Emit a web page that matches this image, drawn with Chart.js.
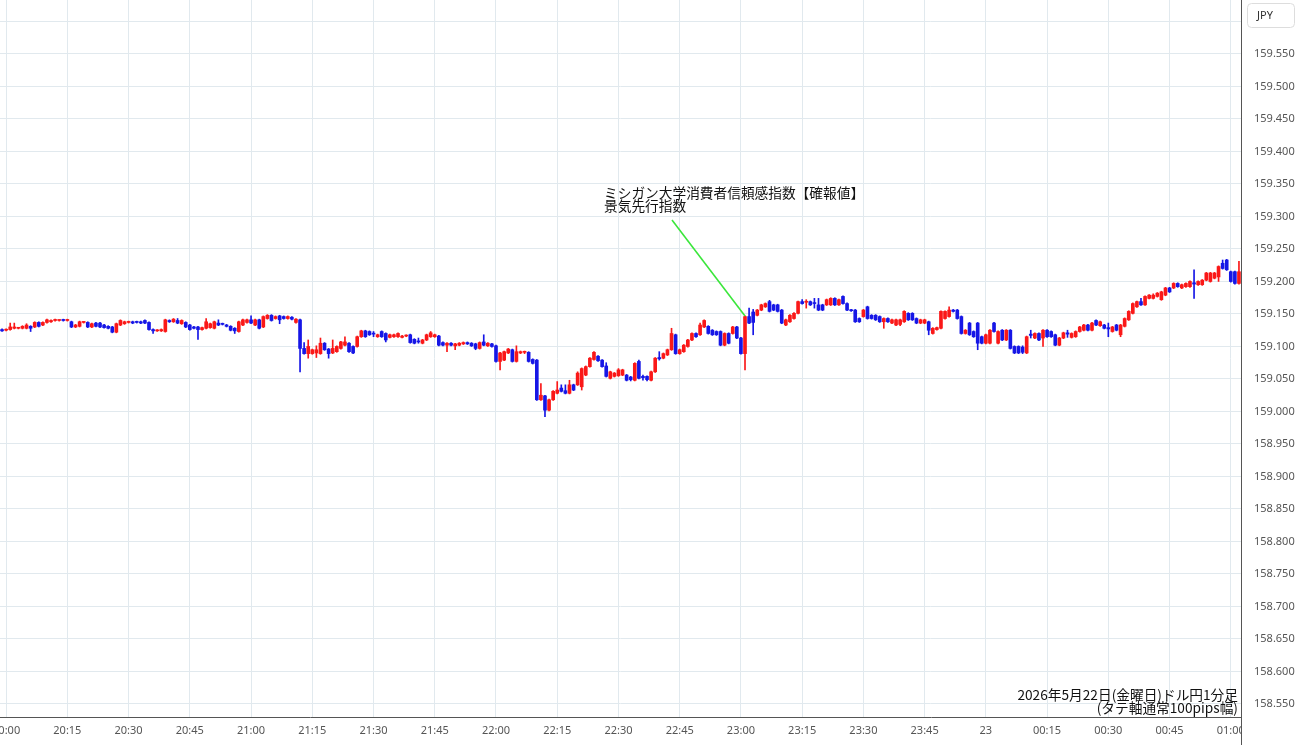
<!doctype html>
<html lang="ja">
<head>
<meta charset="utf-8">
<title>ドル円1分足</title>
<script src="https://cdn.jsdelivr.net/npm/chart.js"></script>
<style>
  html, body { margin: 0; padding: 0; background: #fff; }
  #wrap { position: relative; width: 1300px; height: 745px; }
</style>
</head>
<body>
<div id="wrap"><canvas id="chart"></canvas></div>
<script>
// first candle is 19:59, one candle per minute
const startMinute = 19 * 60 + 59;

const tickLabels = ['20:00','20:15','20:30','20:45','21:00','21:15','21:30','21:45','22:00','22:15',
  '22:30','22:45','23:00','23:15','23:30','23:45','23','00:15','00:30','00:45','01:00'];

const yTicks = [158.55,158.60,158.65,158.70,158.75,158.80,158.85,158.90,158.95,159.00,159.05,
  159.10,159.15,159.20,159.25,159.30,159.35,159.40,159.45,159.50,159.55,159.60];

const opens = [159.126,159.125,159.126,159.128,159.128,159.128,159.128,159.131,159.130,159.137,
159.133,159.137,159.138,159.140,159.140,159.141,159.140,159.138,159.130,159.131,
159.137,159.137,159.130,159.136,159.136,159.133,159.131,159.130,159.122,159.133,
159.135,159.137,159.138,159.138,159.138,159.140,159.137,159.126,159.124,159.124,
159.123,159.140,159.138,159.140,159.135,159.137,159.133,159.130,159.130,159.126,
159.128,159.129,159.128,159.136,159.135,159.133,159.131,159.128,159.123,159.133,
159.137,159.141,159.133,159.141,159.130,159.143,159.148,159.143,159.147,159.146,
159.143,159.145,159.137,159.141,159.097,159.089,159.089,159.090,159.089,159.105,
159.096,159.090,159.092,159.097,159.102,159.105,159.100,159.100,159.115,159.124,
159.123,159.120,159.115,159.123,159.120,159.114,159.115,159.115,159.114,159.116,
159.118,159.111,159.108,159.105,159.110,159.115,159.115,159.116,159.106,159.102,
159.105,159.101,159.102,159.104,159.106,159.105,159.104,159.097,159.107,159.101,
159.104,159.101,159.077,159.079,159.090,159.095,159.077,159.090,159.091,159.091,
159.080,159.079,159.018,159.024,159.002,159.018,159.028,159.036,159.032,159.028,
159.041,159.041,159.038,159.056,159.069,159.080,159.085,159.079,159.070,159.051,
159.054,159.055,159.056,159.056,159.053,159.048,159.077,159.054,159.054,159.048,
159.061,159.083,159.082,159.087,159.095,159.118,159.089,159.092,159.100,159.110,
159.120,159.118,159.130,159.131,159.125,159.123,159.123,159.102,159.120,159.120,
159.130,159.113,159.089,159.146,159.153,159.148,159.156,159.161,159.169,159.164,
159.164,159.156,159.133,159.138,159.143,159.151,159.169,159.168,159.169,159.167,
159.164,159.164,159.164,159.164,159.174,159.164,159.177,159.166,159.156,159.156,
159.143,159.146,159.161,159.148,159.148,159.146,159.138,159.143,159.136,159.133,
159.134,159.138,159.151,159.151,159.143,159.136,159.136,159.138,159.120,159.126,
159.128,159.143,159.146,159.156,159.156,159.146,159.120,159.136,159.123,159.136,
159.115,159.105,159.105,159.136,159.105,159.125,159.110,159.125,159.100,159.100,
159.099,159.090,159.119,159.113,159.120,159.113,159.125,159.123,159.118,159.102,
159.113,159.121,159.114,159.115,159.123,159.125,159.133,159.125,159.140,159.132,
159.133,159.129,159.123,159.133,159.118,159.131,159.141,159.151,159.161,159.169,
159.164,159.174,159.174,159.177,159.172,159.179,159.190,159.190,159.197,159.190,
159.192,159.192,159.198,159.195,159.195,159.202,159.200,159.205,159.207,159.228,
159.233,159.215,159.215,159.197];

const highs = [159.127,159.127,159.136,159.136,159.129,159.132,159.135,159.132,159.138,159.138,
159.138,159.142,159.141,159.142,159.141,159.142,159.142,159.139,159.134,159.139,
159.138,159.138,159.136,159.137,159.137,159.134,159.132,159.131,159.136,159.141,
159.139,159.139,159.139,159.139,159.139,159.141,159.138,159.127,159.126,159.127,
159.142,159.141,159.143,159.143,159.141,159.138,159.134,159.131,159.131,159.130,
159.143,159.136,159.139,159.141,159.136,159.134,159.132,159.129,159.139,159.142,
159.142,159.147,159.142,159.142,159.147,159.149,159.149,159.147,159.148,159.147,
159.147,159.146,159.143,159.142,159.106,159.110,159.096,159.101,159.113,159.106,
159.097,159.110,159.101,159.108,159.115,159.106,159.101,159.116,159.125,159.125,
159.124,159.123,159.119,159.124,159.121,159.119,159.119,159.121,159.117,159.118,
159.119,159.112,159.113,159.111,159.119,159.123,159.119,159.117,159.107,159.106,
159.106,159.105,159.106,159.107,159.107,159.106,159.105,159.107,159.118,159.106,
159.105,159.102,159.091,159.093,159.097,159.096,159.101,159.093,159.093,159.092,
159.081,159.080,159.043,159.025,159.019,159.032,159.046,159.041,159.041,159.048,
159.042,159.061,159.067,159.070,159.083,159.092,159.086,159.080,159.075,159.062,
159.060,159.066,159.065,159.057,159.054,159.075,159.079,159.056,159.055,159.062,
159.083,159.092,159.090,159.096,159.128,159.119,159.096,159.103,159.111,159.121,
159.121,159.136,159.141,159.132,159.126,159.124,159.124,159.121,159.121,159.131,
159.131,159.114,159.147,159.159,159.157,159.157,159.165,159.167,159.171,159.165,
159.165,159.157,159.142,159.149,159.152,159.170,159.172,159.172,159.170,159.174,
159.174,159.165,159.173,159.175,159.175,159.173,159.178,159.167,159.157,159.157,
159.144,159.157,159.162,159.149,159.149,159.147,159.144,159.144,159.142,159.142,
159.142,159.155,159.152,159.152,159.144,159.142,159.142,159.139,159.129,159.130,
159.155,159.155,159.161,159.157,159.157,159.147,159.126,159.137,159.124,159.137,
159.116,159.119,159.126,159.137,159.124,159.126,159.126,159.126,159.101,159.101,
159.101,159.116,159.125,159.121,159.121,159.126,159.126,159.124,159.119,159.114,
159.122,159.125,159.121,159.124,159.131,159.134,159.134,159.137,159.141,159.139,
159.134,159.136,159.131,159.134,159.134,159.144,159.155,159.167,159.170,159.174,
159.178,159.180,159.181,159.183,159.185,159.191,159.191,159.198,159.198,159.196,
159.198,159.201,159.218,159.201,159.203,159.214,159.214,159.214,159.224,159.233,
159.234,159.216,159.216,159.231];

const lows = [159.123,159.124,159.125,159.127,159.127,159.127,159.127,159.123,159.129,159.130,
159.132,159.136,159.137,159.139,159.139,159.139,159.139,159.129,159.129,159.130,
159.136,159.129,159.129,159.130,159.129,159.128,159.127,159.121,159.121,159.132,
159.134,159.136,159.135,159.136,159.135,159.135,159.125,159.120,159.123,159.123,
159.122,159.137,159.137,159.135,159.134,159.129,159.125,159.127,159.111,159.125,
159.127,159.128,159.127,159.132,159.133,159.130,159.124,159.120,159.122,159.132,
159.136,159.135,159.132,159.127,159.129,159.142,159.139,159.142,159.135,159.142,
159.142,159.141,159.136,159.061,159.088,159.082,159.088,159.083,159.088,159.094,
159.082,159.089,159.091,159.096,159.101,159.091,159.089,159.099,159.114,159.114,
159.117,159.115,159.114,159.114,159.107,159.113,159.114,159.114,159.113,159.115,
159.105,159.104,159.105,159.104,159.109,159.114,159.114,159.101,159.101,159.092,
159.101,159.095,159.101,159.103,159.103,159.100,159.095,159.096,159.101,159.100,
159.099,159.076,159.064,159.078,159.089,159.076,159.076,159.089,159.089,159.076,
159.073,159.017,159.017,158.992,159.001,159.017,159.027,159.030,159.027,159.027,
159.032,159.040,159.033,159.055,159.068,159.079,159.077,159.068,159.053,159.050,
159.053,159.054,159.055,159.047,159.047,159.047,159.050,159.048,159.047,159.047,
159.060,159.079,159.081,159.086,159.094,159.088,159.088,159.091,159.099,159.109,
159.114,159.117,159.129,159.119,159.117,159.117,159.101,159.101,159.104,159.119,
159.112,159.088,159.064,159.135,159.118,159.147,159.155,159.160,159.153,159.155,
159.153,159.135,159.132,159.137,159.142,159.150,159.165,159.159,159.163,159.159,
159.155,159.155,159.163,159.163,159.163,159.163,159.165,159.155,159.154,159.137,
159.137,159.145,159.142,159.142,159.140,159.137,159.128,159.137,159.135,159.132,
159.132,159.137,159.140,159.140,159.135,159.135,159.135,159.118,159.119,159.125,
159.127,159.142,159.145,159.153,159.142,159.119,159.119,159.117,159.114,159.095,
159.104,159.104,159.104,159.122,159.104,159.109,159.109,159.096,159.089,159.089,
159.089,159.089,159.113,159.112,159.109,159.100,159.114,159.114,159.101,159.101,
159.112,159.114,159.113,159.114,159.122,159.124,159.124,159.124,159.132,159.131,
159.127,159.115,159.122,159.124,159.115,159.130,159.140,159.150,159.160,159.163,
159.163,159.173,159.173,159.176,159.171,159.178,159.183,159.189,159.191,159.189,
159.191,159.191,159.174,159.194,159.194,159.201,159.199,159.204,159.200,159.219,
159.217,159.199,159.196,159.196];

const closes = [159.124,159.126,159.130,159.130,159.128,159.131,159.133,159.128,159.137,159.131,
159.137,159.141,159.140,159.141,159.140,159.140,159.141,159.130,159.133,159.138,
159.137,159.130,159.135,159.131,159.130,159.129,159.128,159.122,159.135,159.140,
159.138,159.138,159.136,159.137,159.136,159.136,159.126,159.124,159.125,159.126,
159.141,159.138,159.142,159.136,159.140,159.130,159.126,159.128,159.126,159.129,
159.138,159.135,159.138,159.133,159.134,159.131,159.125,159.124,159.138,159.141,
159.141,159.136,159.141,159.128,159.146,159.148,159.140,159.146,159.141,159.143,
159.146,159.142,159.142,159.097,159.089,159.100,159.095,159.095,159.105,159.095,
159.089,159.097,159.100,159.107,159.107,159.092,159.090,159.115,159.124,159.115,
159.118,159.119,159.118,159.115,159.110,159.118,159.118,159.120,159.116,159.117,
159.106,159.105,159.107,159.110,159.118,159.121,159.118,159.102,159.102,159.105,
159.102,159.104,159.105,159.106,159.104,159.101,159.097,159.106,159.102,159.105,
159.100,159.077,159.090,159.092,159.096,159.077,159.092,159.092,159.092,159.077,
159.074,159.018,159.025,159.002,159.018,159.031,159.033,159.031,159.028,159.041,
159.033,159.059,159.066,159.069,159.082,159.091,159.078,159.069,159.054,159.061,
159.059,159.064,159.064,159.048,159.049,159.074,159.051,159.052,159.049,159.061,
159.082,159.081,159.089,159.095,159.120,159.089,159.095,159.102,159.110,159.120,
159.115,159.133,159.140,159.120,159.118,159.118,159.102,159.120,159.105,159.130,
159.113,159.089,159.146,159.136,159.137,159.156,159.164,159.166,159.154,159.156,
159.154,159.136,159.141,159.148,159.151,159.169,159.166,159.169,159.164,159.166,
159.156,159.156,159.172,159.174,159.164,159.172,159.166,159.156,159.155,159.138,
159.138,159.156,159.143,159.143,159.141,159.138,159.143,159.138,159.141,159.141,
159.141,159.154,159.141,159.141,159.136,159.141,159.141,159.125,159.128,159.129,
159.154,159.154,159.156,159.154,159.143,159.120,159.125,159.118,159.115,159.105,
159.105,159.118,159.125,159.123,159.123,159.110,159.125,159.097,159.090,159.090,
159.091,159.115,159.117,159.120,159.110,159.125,159.115,159.115,159.102,159.113,
159.121,159.119,159.120,159.123,159.130,159.133,159.125,159.136,159.133,159.138,
159.128,159.127,159.130,159.125,159.133,159.143,159.154,159.166,159.169,159.164,
159.177,159.179,159.179,159.182,159.184,159.190,159.184,159.197,159.192,159.195,
159.197,159.200,159.196,159.200,159.202,159.213,159.213,159.213,159.223,159.220,
159.218,159.200,159.197,159.215];

const noteIndex = 182; // 23:01 candle the release note points at
const noteLines = ['ミシガン大学消費者信頼感指数【確報値】', '景気先行指数'];
const captionLines = ['2026年5月22日(金曜日)ドル円1分足', '(タテ軸通常100pips幅)'];

const UP = 'rgb(250,24,24)';
const DOWN = 'rgb(22,22,230)';
const GRID = '#e1e9ee';
const AXIS = '#555';
const TICK_FONT = { family: '"Noto Sans", sans-serif', size: 11 };
const JP_FONT = '13.7px "Noto Sans CJK JP", sans-serif';

const labels = opens.map((o, i) => {
  const m = (startMinute + i) % 1440;
  return String(Math.floor(m / 60)).padStart(2, '0') + ':' + String(m % 60).padStart(2, '0');
});
const tickIdx = tickLabels.map((t, k) => 1 + k * 15);
const colors = opens.map((o, i) => closes[i] >= o ? UP : DOWN);

const overlay = {
  id: 'overlay',
  afterDraw(chart) {
    const c = chart.ctx;
    const area = chart.chartArea;
    const xs = chart.scales.x, ys = chart.scales.y;
    c.save();

    // time labels stop at the price scale
    c.fillStyle = '#fff';
    c.fillRect(area.right + 1, area.bottom + 1, chart.width - area.right, chart.height - area.bottom);
    c.strokeStyle = AXIS;
    c.lineWidth = 1;
    c.beginPath();
    c.moveTo(area.right + 0.5, area.bottom);
    c.lineTo(area.right + 0.5, chart.height);
    c.stroke();

    // currency box
    c.fillStyle = '#fff';
    c.strokeStyle = '#dddddd';
    c.beginPath();
    c.roundRect(1247.5, 3.5, 47, 24, 4);
    c.fill();
    c.stroke();
    c.fillStyle = '#333';
    c.font = '11px "Noto Sans", sans-serif';
    c.textAlign = 'left';
    c.textBaseline = 'middle';
    c.fillText('JPY', 1257, 16);

    // event note + leader line
    c.fillStyle = '#111';
    c.font = JP_FONT;
    c.textBaseline = 'alphabetic';
    c.fillText(noteLines[0], 604, 198);
    c.fillText(noteLines[1], 604, 211);
    c.strokeStyle = '#3be63b';
    c.lineWidth = 1.6;
    c.beginPath();
    c.moveTo(672, 220);
    c.lineTo(xs.getPixelForValue(noteIndex), ys.getPixelForValue(highs[noteIndex]));
    c.stroke();

    // caption bottom right
    c.fillStyle = '#111';
    c.textAlign = 'right';
    c.fillText(captionLines[0], 1238, 700);
    c.fillText(captionLines[1], 1238, 713);
    c.restore();
  }
};

new Chart(document.getElementById('chart'), {
  type: 'bar',
  data: {
    labels: labels,
    datasets: [
      {
        label: 'body',
        data: opens.map((o, i) => [o, closes[i]]),
        backgroundColor: colors,
        barThickness: 3,
        minBarLength: 1,
        grouped: false
      },
      {
        label: 'wick',
        data: lows.map((l, i) => [l, highs[i]]),
        backgroundColor: colors,
        barThickness: 1,
        grouped: false
      }
    ]
  },
  options: {
    responsive: true,
    maintainAspectRatio: false,
    animation: false,
    layout: { padding: 0 },
    plugins: { legend: { display: false }, tooltip: { enabled: false } },
    scales: {
      x: {
        grid: { offset: false, color: GRID, drawTicks: false },
        border: { color: AXIS, width: 1 },
        ticks: {
          autoSkip: false, maxRotation: 0, minRotation: 0, padding: 7,
          color: '#555', font: TICK_FONT,
          callback: (v, i) => tickLabels[i]
        },
        afterBuildTicks: s => { s.ticks = tickIdx.map(v => ({ value: v })); },
        afterFit: s => { s.height = 28; s.paddingLeft = 0; s.paddingRight = 0; }
      },
      y: {
        position: 'right',
        min: 158.53,
        max: 159.633,
        grid: { color: GRID, drawTicks: false },
        border: { color: AXIS, width: 1 },
        ticks: {
          padding: 13, color: '#555', font: TICK_FONT,
          callback: v => v.toFixed(3)
        },
        afterBuildTicks: s => { s.ticks = yTicks.map(v => ({ value: v })); },
        afterFit: s => { s.width = 59; s.paddingTop = 0; s.paddingBottom = 0; }
      }
    }
  },
  plugins: [overlay]
});
</script>
</body>
</html>
